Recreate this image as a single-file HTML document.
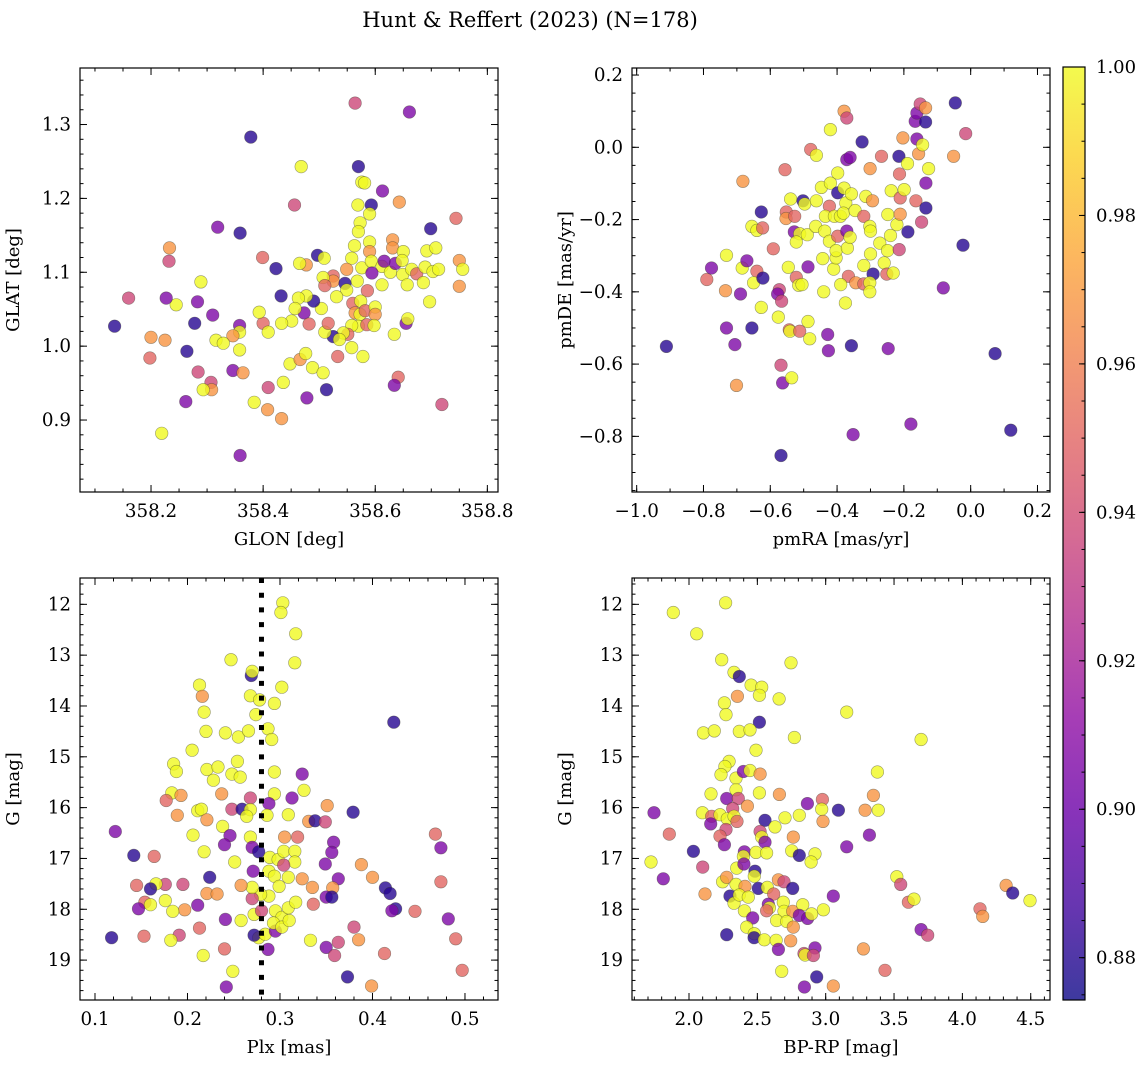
<!DOCTYPE html>
<html><head><meta charset="utf-8"><title>Hunt & Reffert (2023)</title>
<style>
html,body{margin:0;padding:0;background:#fff;}
svg{display:block;font-family:"DejaVu Serif","Liberation Serif",serif;}
</style></head>
<body>
<svg id="fig" width="1148" height="1067" viewBox="0 0 1148 1067" xmlns="http://www.w3.org/2000/svg">
<defs>
<linearGradient id="plasmaGrad" x1="0" y1="1" x2="0" y2="0"></linearGradient>
</defs>
<text x="530" y="27" font-size="21" text-anchor="middle">Hunt &amp; Reffert (2023) (N=178)</text>
</svg>
<script>
// ---------- data: panel 1 (GLON vs GLAT) ----------
const glonValues = [
358.564,358.661,358.378,358.468,358.570,358.576,358.581,358.613,358.456,358.643,
358.569,358.593,358.590,358.744,358.319,358.699,358.359,358.573,358.570,358.233,
358.232,358.399,358.423,358.497,358.509,358.563,358.590,358.590,358.631,358.631,
358.650,358.692,358.708,358.750,358.756,358.750,358.558,358.576,358.593,358.612,
358.616,358.627,358.636,358.648,358.649,358.657,358.665,358.674,358.689,358.703,
358.713,358.686,358.697,358.594,358.612,358.586,358.568,358.549,358.525,358.525,
358.507,358.510,358.546,358.549,358.531,358.560,358.574,358.564,358.573,358.582,
358.600,358.600,358.570,358.585,358.598,358.558,358.551,358.543,358.525,358.536,
358.510,358.516,358.504,358.490,358.473,358.482,358.477,358.463,358.477,358.465,
358.457,358.432,358.451,358.433,358.400,358.393,358.409,358.358,358.358,358.346,
358.358,358.316,358.329,358.310,358.289,358.283,358.278,358.245,358.227,358.160,
358.135,358.200,358.225,358.198,358.264,358.284,358.307,358.308,358.293,358.262,
358.219,358.346,358.364,358.409,358.436,358.384,358.408,358.433,358.359,358.478,
358.513,358.448,358.466,358.476,358.488,358.507,358.533,358.558,358.578,358.634,
358.655,358.658,358.641,358.634,358.719];
const glatValues = [
1.329,1.317,1.283,1.243,1.243,1.222,1.221,1.210,1.191,1.195,
1.191,1.191,1.179,1.173,1.161,1.159,1.153,1.167,1.155,1.133,
1.115,1.120,1.105,1.123,1.119,1.136,1.141,1.128,1.144,1.133,
1.128,1.129,1.133,1.116,1.104,1.081,1.119,1.106,1.115,1.108,
1.115,1.100,1.112,1.116,1.097,1.083,1.104,1.098,1.107,1.101,
1.104,1.086,1.060,1.099,1.083,1.075,1.088,1.104,1.095,1.088,
1.093,1.082,1.085,1.076,1.067,1.058,1.061,1.045,1.043,1.048,
1.053,1.043,1.027,1.029,1.028,1.028,1.016,1.018,1.013,1.009,
1.019,1.031,1.051,1.061,1.045,1.030,1.068,1.065,1.110,1.112,
1.051,1.068,1.034,1.031,1.031,1.046,1.019,1.028,1.019,1.014,
0.995,1.008,1.004,1.042,1.087,1.060,1.031,1.056,1.065,1.065,
1.027,1.012,1.008,0.984,0.993,0.965,0.951,0.941,0.941,0.925,
0.882,0.967,0.964,0.944,0.951,0.924,0.914,0.902,0.852,0.930,
0.941,0.976,0.982,0.990,0.971,0.964,0.986,0.998,0.986,1.016,
1.031,1.037,0.958,0.947,0.921];
const probPanel1 = [
0.937,0.906,0.88,1.0,0.88,1.0,1.0,0.906,0.937,0.968,
1.0,0.88,1.0,0.95,0.906,0.88,0.88,1.0,1.0,0.968,
0.937,0.95,0.88,0.88,1.0,1.0,1.0,0.968,0.968,0.968,
1.0,1.0,1.0,0.968,1.0,0.968,1.0,1.0,1.0,1.0,
0.906,1.0,0.906,1.0,1.0,1.0,1.0,0.95,1.0,1.0,
1.0,1.0,1.0,0.906,1.0,0.95,1.0,0.968,0.95,0.968,
1.0,0.95,0.88,1.0,1.0,0.95,1.0,0.968,1.0,0.95,
1.0,0.968,1.0,0.95,1.0,1.0,0.95,1.0,0.88,1.0,
1.0,0.95,1.0,0.88,0.906,0.95,1.0,1.0,0.968,1.0,
1.0,0.88,1.0,1.0,0.95,1.0,1.0,0.906,1.0,0.968,
1.0,1.0,1.0,0.906,1.0,0.906,0.88,1.0,0.906,0.937,
0.88,0.968,0.968,0.95,0.88,0.937,0.937,0.968,1.0,0.906,
1.0,0.906,0.968,0.937,1.0,1.0,0.968,0.968,0.906,0.906,
0.88,1.0,0.968,1.0,1.0,1.0,0.95,1.0,1.0,1.0,
0.906,1.0,0.95,0.906,0.937];

// ---------- data: panel 2 (pmRA vs pmDE) ----------
const pmraValues = [
-0.911,-0.790,-0.776,-0.734,-0.731,-0.731,-0.706,-0.701,-0.689,-0.682,
-0.684,-0.670,-0.655,-0.640,-0.650,-0.627,-0.622,-0.627,-0.655,-0.640,
-0.623,-0.591,-0.573,-0.578,-0.566,-0.576,-0.568,-0.563,-0.536,-0.568,
-0.556,-0.552,-0.553,-0.527,-0.539,-0.502,-0.497,-0.528,-0.512,-0.522,
-0.489,-0.546,-0.522,-0.515,-0.505,-0.487,-0.543,-0.541,-0.512,-0.487,
-0.482,-0.479,-0.462,-0.462,-0.464,-0.447,-0.437,-0.443,-0.440,-0.420,
-0.420,-0.423,-0.435,-0.423,-0.410,-0.403,-0.403,-0.408,-0.398,-0.398,
-0.398,-0.379,-0.371,-0.390,-0.379,-0.374,-0.381,-0.371,-0.369,-0.361,
-0.366,-0.389,-0.375,-0.371,-0.361,-0.357,-0.346,-0.344,-0.357,-0.325,
-0.320,-0.314,-0.302,-0.300,-0.294,-0.320,-0.300,-0.292,-0.320,-0.302,
-0.302,-0.301,-0.272,-0.267,-0.259,-0.249,-0.248,-0.238,-0.240,-0.251,
-0.232,-0.247,-0.221,-0.213,-0.211,-0.211,-0.215,-0.199,-0.214,-0.203,
-0.189,-0.188,-0.164,-0.156,-0.161,-0.144,-0.166,-0.161,-0.151,-0.135,
-0.135,-0.126,-0.134,-0.134,-0.147,-0.179,-0.352,-0.082,-0.051,-0.046,
-0.015,-0.023,0.073,0.120,-0.428,-0.426];
const pmdeValues = [
-0.551,-0.366,-0.334,-0.397,-0.299,-0.500,-0.546,-0.659,-0.406,-0.094,
-0.334,-0.314,-0.500,-0.343,-0.375,-0.179,-0.362,-0.443,-0.219,-0.230,
-0.223,-0.281,-0.394,-0.406,-0.426,-0.470,-0.603,-0.652,-0.638,-0.853,
-0.062,-0.179,-0.197,-0.191,-0.143,-0.148,-0.157,-0.234,-0.239,-0.262,
-0.242,-0.332,-0.360,-0.382,-0.380,-0.331,-0.505,-0.509,-0.509,-0.482,
-0.530,-0.006,-0.022,-0.148,-0.219,-0.111,-0.232,-0.308,-0.400,0.049,
-0.099,-0.163,-0.191,-0.260,-0.337,-0.306,-0.286,-0.191,-0.071,-0.246,
-0.126,0.100,0.081,-0.191,-0.113,-0.154,-0.182,-0.232,-0.279,-0.249,
-0.357,-0.380,-0.431,-0.034,-0.028,-0.129,-0.175,-0.375,-0.549,0.015,
-0.191,-0.136,-0.219,-0.232,-0.148,-0.327,-0.295,-0.351,-0.378,-0.375,
-0.400,-0.059,-0.265,-0.025,-0.320,-0.286,-0.186,-0.120,-0.244,-0.351,
-0.348,-0.557,-0.214,-0.074,-0.140,-0.185,-0.025,-0.117,-0.283,0.026,
-0.045,-0.234,-0.148,-0.018,0.023,0.007,0.072,0.095,0.120,0.109,
0.070,-0.059,-0.099,-0.168,-0.207,-0.766,-0.795,-0.389,-0.025,0.123,
0.038,-0.271,-0.571,-0.783,-0.518,-0.563];
const probPanel2 = [
0.88,0.95,0.906,0.968,1.0,0.906,0.906,0.968,0.906,0.968,
1.0,0.906,0.88,0.95,1.0,0.88,0.88,1.0,1.0,1.0,
0.95,0.95,0.937,0.906,0.937,1.0,0.937,0.906,1.0,0.88,
0.95,0.95,0.968,0.95,1.0,0.88,1.0,0.906,1.0,1.0,
1.0,1.0,0.95,1.0,1.0,0.906,0.95,1.0,0.95,1.0,
1.0,0.95,1.0,1.0,1.0,1.0,1.0,1.0,1.0,1.0,
1.0,0.95,1.0,1.0,1.0,1.0,1.0,1.0,1.0,0.95,
0.88,0.968,0.937,1.0,1.0,1.0,1.0,0.906,1.0,1.0,
0.95,1.0,1.0,0.906,0.906,1.0,1.0,0.968,0.88,0.88,
0.95,1.0,1.0,1.0,0.968,1.0,1.0,0.88,0.95,1.0,
1.0,0.968,1.0,0.95,1.0,1.0,1.0,1.0,1.0,0.95,
1.0,0.906,1.0,0.95,0.95,0.968,0.88,1.0,0.937,0.968,
1.0,0.88,0.95,0.968,0.906,1.0,0.906,0.906,0.937,0.968,
0.88,1.0,0.906,0.88,0.937,0.906,0.906,0.906,0.968,0.88,
0.937,0.88,0.88,0.88,0.906,0.906];

// ---------- data: panel 3 (Plx vs G) ----------
const plxValues = [
0.303,0.301,0.317,0.247,0.316,0.269,0.270,0.213,0.216,0.302,
0.268,0.278,0.294,0.218,0.274,0.423,0.220,0.241,0.255,0.266,
0.287,0.291,0.205,0.185,0.188,0.221,0.233,0.254,0.248,0.257,
0.228,0.294,0.324,0.326,0.183,0.193,0.177,0.237,0.268,0.294,
0.313,0.248,0.259,0.268,0.264,0.288,0.286,0.309,0.211,0.215,
0.189,0.221,0.351,0.331,0.338,0.349,0.379,0.238,0.246,0.240,
0.206,0.218,0.268,0.270,0.277,0.289,0.298,0.304,0.305,0.319,
0.316,0.316,0.304,0.251,0.271,0.288,0.294,0.309,0.299,0.324,
0.335,0.349,0.358,0.356,0.363,0.388,0.400,0.468,0.474,0.474,
0.414,0.419,0.357,0.350,0.356,0.336,0.425,0.421,0.446,0.482,
0.490,0.497,0.380,0.385,0.363,0.350,0.359,0.413,0.373,0.399,
0.333,0.287,0.277,0.272,0.284,0.295,0.272,0.280,0.295,0.302,
0.293,0.302,0.310,0.309,0.317,0.288,0.279,0.270,0.270,0.258,
0.258,0.241,0.240,0.249,0.242,0.217,0.211,0.213,0.224,0.221,
0.232,0.197,0.191,0.182,0.184,0.176,0.195,0.176,0.166,0.160,
0.145,0.154,0.160,0.147,0.153,0.118,0.142,0.164,0.122];
const gMagPanel3 = [
11.97,12.16,12.58,13.09,13.15,13.40,13.32,13.59,13.81,13.63,
13.80,13.88,13.95,14.12,14.17,14.32,14.50,14.53,14.61,14.49,
14.45,14.66,14.87,15.14,15.29,15.25,15.20,15.09,15.34,15.40,
15.46,15.30,15.34,15.66,15.71,15.76,15.86,15.73,15.81,15.73,
15.81,16.03,16.03,16.04,16.17,15.92,16.15,16.14,16.06,16.03,
16.15,16.24,15.96,16.27,16.26,16.28,16.09,16.37,16.55,16.73,
16.54,16.87,16.58,16.78,16.87,16.98,17.02,16.86,16.58,16.58,
16.86,17.07,17.13,17.07,17.25,17.25,17.35,17.37,17.55,17.40,
17.57,17.11,16.68,16.88,17.40,17.12,17.37,16.52,16.79,17.46,
17.58,17.69,17.58,17.76,17.76,17.90,17.99,18.03,18.04,18.19,
18.58,19.20,18.35,18.60,18.65,18.75,18.91,18.87,19.33,19.51,
18.61,18.79,18.56,18.51,18.49,18.43,18.10,18.03,18.03,18.16,
18.27,18.35,18.22,17.97,17.86,17.74,17.71,17.79,17.57,17.53,
18.22,18.20,18.78,19.22,19.53,18.91,17.92,18.37,17.37,17.69,
17.70,18.01,18.51,18.61,18.04,17.83,17.51,17.51,17.50,17.60,
17.53,17.86,17.91,17.99,18.53,18.56,16.94,16.96,16.47];
const probPanel3 = [
1.0,1.0,1.0,1.0,1.0,0.88,1.0,1.0,0.968,1.0,
1.0,1.0,1.0,1.0,1.0,0.88,1.0,1.0,1.0,1.0,
1.0,1.0,1.0,1.0,1.0,1.0,1.0,1.0,1.0,1.0,
1.0,1.0,0.906,1.0,1.0,0.968,0.95,0.968,0.937,1.0,
0.906,0.937,0.88,1.0,1.0,0.906,1.0,1.0,1.0,1.0,
0.968,0.968,0.968,0.968,0.88,0.937,0.88,1.0,0.906,0.906,
1.0,1.0,1.0,0.906,0.88,1.0,1.0,1.0,0.968,0.95,
1.0,1.0,0.937,1.0,0.906,1.0,1.0,1.0,1.0,0.968,
0.968,0.906,0.906,0.906,0.906,0.968,0.968,0.95,0.906,0.95,
0.88,0.88,0.968,0.906,0.88,0.95,0.88,0.906,0.95,0.906,
0.95,0.95,0.937,0.968,0.937,0.906,0.937,0.95,0.88,0.968,
1.0,0.906,1.0,0.88,1.0,0.906,1.0,0.937,1.0,1.0,
1.0,1.0,1.0,1.0,1.0,1.0,1.0,0.937,1.0,0.968,
1.0,0.906,0.95,1.0,0.906,1.0,0.906,0.95,0.88,0.968,
0.968,0.968,0.937,1.0,1.0,1.0,0.937,0.937,1.0,0.88,
0.95,0.95,1.0,0.906,0.95,0.88,0.88,0.95,0.906];
const plxReference = [0.28];

// ---------- data: panel 4 (BP-RP vs G) ----------
const bprpValues = [
2.268,1.885,2.056,2.239,2.746,2.329,2.368,2.454,2.532,2.515,
2.354,2.659,2.259,2.271,3.154,2.515,2.105,2.185,2.368,2.446,
2.771,3.698,2.490,2.293,2.263,2.234,2.344,2.398,2.446,2.520,
3.378,2.344,2.161,2.515,2.661,3.349,2.276,2.361,2.427,2.866,
2.976,2.971,3.093,3.288,3.385,1.744,2.098,2.166,2.227,2.320,
2.280,2.329,2.351,2.159,2.556,2.702,2.807,2.980,2.629,2.271,
2.227,2.520,2.532,2.763,3.320,2.259,2.556,1.856,2.032,2.405,
2.398,2.490,2.568,2.751,2.807,2.922,2.893,3.154,1.722,2.100,
1.812,2.117,2.349,2.402,2.483,2.478,2.246,2.276,2.344,2.410,
2.300,2.329,2.368,2.434,2.507,2.573,2.620,2.654,2.695,2.759,
2.690,2.580,2.588,2.568,2.695,2.759,2.832,2.807,2.868,2.897,
2.983,3.056,2.405,2.466,2.641,2.715,2.763,2.422,2.478,2.276,
2.476,2.551,2.637,2.654,2.744,2.841,2.849,2.922,2.910,2.678,
2.934,2.844,3.056,3.276,3.434,3.520,3.549,3.605,3.646,3.698,
3.746,4.129,4.149,4.320,4.368,4.495];
const gMagPanel4 = [
11.97,12.16,12.58,13.09,13.15,13.34,13.42,13.59,13.63,13.79,
13.81,13.86,13.94,14.17,14.12,14.32,14.53,14.49,14.50,14.47,
14.62,14.66,14.87,15.09,15.19,15.35,15.42,15.29,15.27,15.34,
15.30,15.65,15.73,15.71,15.74,15.76,15.82,15.82,15.97,15.92,
15.84,16.03,16.05,16.05,16.05,16.10,16.10,16.17,16.14,16.02,
16.22,16.17,16.27,16.32,16.25,16.20,16.15,16.27,16.38,16.43,
16.56,16.47,16.58,16.58,16.54,16.73,16.68,16.52,16.86,16.87,
16.96,16.88,16.89,16.85,16.94,16.91,17.07,16.77,17.07,17.17,
17.40,17.70,17.19,17.11,17.25,17.35,17.46,17.37,17.51,17.55,
17.74,17.88,17.72,17.76,17.59,17.57,17.70,17.42,17.46,17.59,
17.86,17.90,17.97,18.03,18.04,18.04,17.91,18.12,18.18,18.09,
18.01,17.74,18.03,18.17,18.22,18.24,18.35,18.35,18.48,18.50,
18.56,18.60,18.61,18.79,18.62,18.87,18.90,18.76,18.91,19.22,
19.33,19.53,19.51,18.78,19.20,17.36,17.51,17.86,17.80,18.40,
18.51,17.99,18.14,17.53,17.68,17.83];
const probPanel4 = [
1.0,1.0,1.0,1.0,1.0,1.0,0.88,1.0,1.0,1.0,
0.968,1.0,1.0,1.0,1.0,0.88,1.0,1.0,1.0,1.0,
1.0,1.0,1.0,1.0,1.0,1.0,1.0,0.906,1.0,0.968,
1.0,1.0,1.0,1.0,0.968,0.968,0.906,0.937,0.968,0.906,
0.95,1.0,0.88,0.968,1.0,0.906,1.0,0.95,1.0,0.937,
1.0,1.0,0.95,0.906,0.88,1.0,1.0,0.968,1.0,0.937,
0.95,0.937,1.0,0.968,0.906,0.906,0.906,0.95,0.88,0.906,
1.0,1.0,1.0,1.0,0.88,1.0,1.0,0.906,1.0,0.937,
0.906,0.968,1.0,0.906,0.88,1.0,1.0,0.968,1.0,0.968,
0.88,1.0,1.0,1.0,0.88,1.0,0.95,0.968,0.937,0.88,
1.0,0.906,1.0,0.95,1.0,0.968,1.0,0.906,0.906,1.0,
1.0,0.906,1.0,0.906,1.0,1.0,0.968,1.0,1.0,0.88,
0.88,1.0,1.0,0.906,0.968,0.937,1.0,0.906,0.937,1.0,
0.88,0.906,0.968,0.968,0.95,1.0,0.937,0.95,1.0,0.906,
0.937,0.95,0.968,0.968,0.88,1.0];

// ---------- tick values ----------
const p1XTicks = [358.2,358.4,358.6,358.8];
const p1YTicks = [0.9,1.0,1.1,1.2,1.3];
const p2XTicks = [-1.0,-0.8,-0.6,-0.4,-0.2,0.0,0.2];
const p2YTicks = [-0.8,-0.6,-0.4,-0.2,0.0,0.2];
const p3XTicks = [0.1,0.2,0.3,0.4,0.5];
const gTicks = [12,13,14,15,16,17,18,19];
const p4XTicks = [2.0,2.5,3.0,3.5,4.0,4.5];
const cbTicks = [0.88,0.90,0.92,0.94,0.96,0.98,1.00];
const cbRange = [0.8743,1.0];

// ---------- rendering ----------
const NS = 'http://www.w3.org/2000/svg';
const svg = document.getElementById('fig');
const plasmaStops = ['#0d0887','#41049d','#6a00a8','#8f0da4','#b12a90','#cc4778','#e16462','#f2844b','#fca636','#fcce25','#f0f921'];
function hex2rgb(h){return [parseInt(h.substr(1,2),16),parseInt(h.substr(3,2),16),parseInt(h.substr(5,2),16)];}
function plasma(t){
  t=Math.max(0,Math.min(1,t));
  const f=t*10, i=Math.min(9,Math.floor(f)), r=f-i;
  const a=hex2rgb(plasmaStops[i]), b=hex2rgb(plasmaStops[i+1]);
  return 'rgb('+a.map((v,k)=>Math.round(v+(b[k]-v)*r)).join(',')+')';
}
function probColor(p){return plasma((p-cbRange[0])/(cbRange[1]-cbRange[0]));}
function el(tag,parent){const e=document.createElementNS(NS,tag);(parent||svg).appendChild(e);return e;}
function fmt(v,d){return v.toFixed(d).replace('-','\u2212');}

const panels = [
 {id:'glon-glat',L:80,T:68,W:418,H:424,x0:358.0733,x1:358.819,y0:0.8026,y1:1.3765,
  xs:glonValues,ys:glatValues,ps:probPanel1,xt:p1XTicks,yt:p1YTicks,xd:1,yd:1,xm:0.05,ym:0.02,
  xl:'GLON [deg]',yl:'GLAT [deg]'},
 {id:'pmra-pmde',L:632,T:68,W:418,H:424,x0:-1.014,x1:0.2375,y0:-0.954,y1:0.2195,
  xs:pmraValues,ys:pmdeValues,ps:probPanel2,xt:p2XTicks,yt:p2YTicks,xd:1,yd:1,xm:0.1,ym:0.05,
  xl:'pmRA [mas/yr]',yl:'pmDE [mas/yr]'},
 {id:'plx-g',L:80,T:578,W:418,H:422,x0:0.0838,x1:0.5357,y0:19.785,y1:11.482,
  xs:plxValues,ys:gMagPanel3,ps:probPanel3,xt:p3XTicks,yt:gTicks,xd:1,yd:0,xm:0.02,ym:0.2,
  xl:'Plx [mas]',yl:'G [mag]',vline:plxReference},
 {id:'bprp-g',L:632,T:578,W:418,H:422,x0:1.583,x1:4.641,y0:19.785,y1:11.482,
  xs:bprpValues,ys:gMagPanel4,ps:probPanel4,xt:p4XTicks,yt:gTicks,xd:1,yd:0,xm:0.1,ym:0.2,
  xl:'BP-RP [mag]',yl:'G [mag]'}
];

panels.forEach(P=>{
  const sx=v=>P.L+(v-P.x0)/(P.x1-P.x0)*P.W;
  const sy=v=>P.T+P.H-(v-P.y0)/(P.y1-P.y0)*P.H;
  const g=el('g');
  
  
  const cp=el('clipPath',g); cp.setAttribute('id','clip-'+P.id);
  const cr=el('rect',cp); cr.setAttribute('x',P.L);cr.setAttribute('y',P.T);cr.setAttribute('width',P.W);cr.setAttribute('height',P.H);
  const pts=el('g',g); pts.setAttribute('clip-path','url(#clip-'+P.id+')');
  
  
  for(let i=0;i<P.xs.length;i++){
    const c=el('circle',pts);
    c.setAttribute('cx',sx(P.xs[i]).toFixed(1));
    c.setAttribute('cy',sy(P.ys[i]).toFixed(1));
    c.setAttribute('r','6.3');
    c.setAttribute('fill',probColor(P.ps[i]));
    c.setAttribute('fill-opacity','0.8');
    c.setAttribute('stroke','#3a3a2a');
    c.setAttribute('stroke-opacity','0.5');
    c.setAttribute('stroke-width','0.6');
    
    
  }
  if(P.vline){
    P.vline.forEach(v=>{
      const l=el('line',g);
      l.setAttribute('x1',sx(v));l.setAttribute('x2',sx(v));
      l.setAttribute('y1',P.T);l.setAttribute('y2',P.T+P.H);
      l.setAttribute('stroke','#000');l.setAttribute('stroke-width','5');
      l.setAttribute('stroke-dasharray','5 9.7');
      
      
    });
  }
  const fr=el('rect',g);
  fr.setAttribute('x',P.L);fr.setAttribute('y',P.T);fr.setAttribute('width',P.W);fr.setAttribute('height',P.H);
  fr.setAttribute('fill','none');fr.setAttribute('stroke','#000');fr.setAttribute('stroke-width','1.2');
  
  
  const tg=el('g',g); tg.setAttribute('stroke','#000'); tg.setAttribute('stroke-width','1');
  
  
  function vt(x,len){
    let a=el('line',tg);a.setAttribute('x1',x);a.setAttribute('x2',x);a.setAttribute('y1',P.T+P.H);a.setAttribute('y2',P.T+P.H-len);
    let b=el('line',tg);b.setAttribute('x1',x);b.setAttribute('x2',x);b.setAttribute('y1',P.T);b.setAttribute('y2',P.T+len);
  }
  function ht(y,len){
    let a=el('line',tg);a.setAttribute('y1',y);a.setAttribute('y2',y);a.setAttribute('x1',P.L);a.setAttribute('x2',P.L+len);
    let b=el('line',tg);b.setAttribute('y1',y);b.setAttribute('y2',y);b.setAttribute('x1',P.L+P.W);b.setAttribute('x2',P.L+P.W-len);
  }
  const xa=Math.min(P.x0,P.x1), xb=Math.max(P.x0,P.x1);
  for(let k=Math.ceil(xa/P.xm-1e-6);k*P.xm<=xb+1e-9;k++){vt(sx(k*P.xm),3.5);}
  const ya=Math.min(P.y0,P.y1), yb=Math.max(P.y0,P.y1);
  for(let k=Math.ceil(ya/P.ym-1e-6);k*P.ym<=yb+1e-9;k++){ht(sy(k*P.ym),3.5);}
  P.xt.forEach(v=>{
    vt(sx(v),7);
    const t=el('text',g);
    t.setAttribute('x',sx(v));t.setAttribute('y',P.T+P.H+25);
    t.setAttribute('font-size','18.3');t.setAttribute('text-anchor','middle');
    t.textContent=fmt(v,P.xd);
    
    
  });
  P.yt.forEach(v=>{
    ht(sy(v),7);
    const t=el('text',g);
    t.setAttribute('x',P.L-9);t.setAttribute('y',sy(v)+6);
    t.setAttribute('font-size','18.3');t.setAttribute('text-anchor','end');
    t.textContent=fmt(v,P.yd);
    
    
  });
  const xlab=el('text',g);
  xlab.setAttribute('x',P.L+P.W/2);xlab.setAttribute('y',P.T+P.H+53);
  xlab.setAttribute('font-size','18');xlab.setAttribute('text-anchor','middle');
  xlab.textContent=P.xl;
  
  
  const ylab=el('text',g);
  const yx=P.L-61, yy=P.T+P.H/2;
  ylab.setAttribute('x',yx);ylab.setAttribute('y',yy);
  ylab.setAttribute('font-size','18');ylab.setAttribute('text-anchor','middle');
  ylab.setAttribute('transform','rotate(-90 '+yx+' '+yy+')');
  ylab.textContent=P.yl;
  
  
});

// ---------- colorbar ----------
const grad=document.getElementById('plasmaGrad');
plasmaStops.forEach((c,i)=>{
  const s=el('stop',grad);s.setAttribute('offset',(i*10)+'%');s.setAttribute('stop-color',c);
});
const CB={L:1063,T:67,W:22,H:933};
const cbs=v=>CB.T+(cbRange[1]-v)/(cbRange[1]-cbRange[0])*CB.H;
const cbg=el('g');


const cbr=el('rect',cbg);
cbr.setAttribute('x',CB.L);cbr.setAttribute('y',CB.T);cbr.setAttribute('width',CB.W);cbr.setAttribute('height',CB.H);
cbr.setAttribute('fill','url(#plasmaGrad)');cbr.setAttribute('fill-opacity','0.8');


const cbf=el('rect',cbg);
cbf.setAttribute('x',CB.L);cbf.setAttribute('y',CB.T);cbf.setAttribute('width',CB.W);cbf.setAttribute('height',CB.H);
cbf.setAttribute('fill','none');cbf.setAttribute('stroke','#000');cbf.setAttribute('stroke-width','1.2');


for(let k=Math.ceil(cbRange[0]/0.005-1e-6);k*0.005<=cbRange[1]+1e-9;k++){
  const y=cbs(k*0.005);
  const l=el('line',cbg);l.setAttribute('x1',CB.L+CB.W);l.setAttribute('x2',CB.L+CB.W-3.5);
  l.setAttribute('y1',y);l.setAttribute('y2',y);l.setAttribute('stroke','#000');
}
cbTicks.forEach(v=>{
  const y=cbs(v);
  const l=el('line',cbg);l.setAttribute('x1',CB.L+CB.W);l.setAttribute('x2',CB.L+CB.W-6);
  l.setAttribute('y1',y);l.setAttribute('y2',y);l.setAttribute('stroke','#000');
  const t=el('text',cbg);
  t.setAttribute('x',CB.L+CB.W+11);t.setAttribute('y',y+6);
  t.setAttribute('font-size','18');
  t.textContent=v.toFixed(2);
  
  
});
</script>
</body></html>
